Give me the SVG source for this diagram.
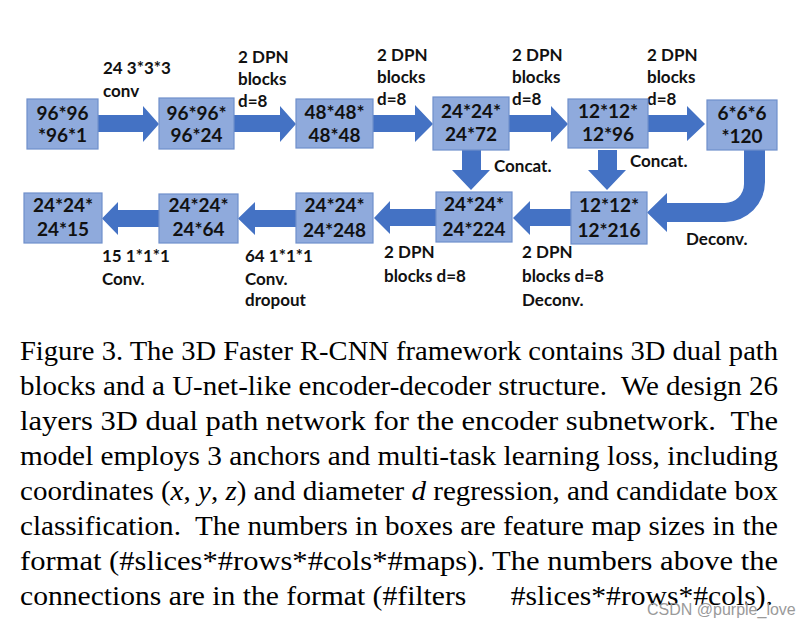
<svg xmlns="http://www.w3.org/2000/svg" width="808" height="627" viewBox="0 0 808 627">
  <style>
    .box { fill: #8FAADC; stroke: #6F8FCB; stroke-width: 1.2; }
    .arrow { fill: #4472C4; }
    .bt { font-family: Lato, "Open Sans", sans-serif; font-weight: bold; font-size: 19px; fill: #111; text-anchor: middle; }
    .lb { font-family: Lato, "Open Sans", sans-serif; font-weight: bold; font-size: 17px; fill: #111; }
    .cap { font-family: "Liberation Serif", "Times New Roman", serif; font-size: 28px; fill: #000; white-space: pre; }
    .wm { font-family: "Liberation Sans", Arial, sans-serif; font-size: 16px; fill: #9a9a9a; }
  </style>
  <rect width="808" height="627" fill="#fff"/>

  <!-- connectors: block arrows -->
  <g id="connectors">
    <!-- encoder, left to right -->
    <polygon class="arrow" points="98,115 143,115 143,106 159,124 143,142 143,132 98,132"/>
    <polygon class="arrow" points="234,115 280,115 280,106 296,124 280,142 280,132 234,132"/>
    <polygon class="arrow" points="373,115 415,115 415,105 433,124 415,142 415,132 373,132"/>
    <polygon class="arrow" points="509,115 551,115 551,106 568,124 551,142 551,132 509,132"/>
    <polygon class="arrow" points="648,115 687,115 687,106 705,124 687,141 687,132 648,132"/>
    <!-- concat, downward -->
    <polygon class="arrow" points="462,150 481,150 481,170 490,170 471,190 452,170 462,170"/>
    <polygon class="arrow" points="598,150 617,150 617,170 626,170 607,190 588,170 598,170"/>
    <!-- deconv, bending from the bottleneck into the decoder -->
    <path class="arrow" d="M744,150 L765,150 L765,182 A40,40 0 0 1 725,222 L667,222 L667,232 L647,212.5 L667,193 L667,203 L725,203 A19,19 0 0 0 744,184 Z"/>
    <!-- decoder, right to left -->
    <polygon class="arrow" points="571,209 530,209 530,201 513,218 530,235 530,226 571,226"/>
    <polygon class="arrow" points="436,209 390,209 390,201 374,218 390,234 390,226 436,226"/>
    <polygon class="arrow" points="296,210 255,210 255,202 238,218.5 255,235 255,227 296,227"/>
    <polygon class="arrow" points="159,210 118,210 118,202 102,218.5 118,235 118,227 159,227"/>
  </g>

  <!-- connector labels -->
  <g id="labels">
    <text class="lb" x="103" y="74">24 3*3*3</text>
    <text class="lb" x="103" y="97">conv</text>
    <text class="lb" x="238" y="63">2 DPN</text>
    <text class="lb" x="238" y="85">blocks</text>
    <text class="lb" x="238" y="107">d=8</text>
    <text class="lb" x="377" y="61">2 DPN</text>
    <text class="lb" x="377" y="83">blocks</text>
    <text class="lb" x="377" y="105">d=8</text>
    <text class="lb" x="512" y="61">2 DPN</text>
    <text class="lb" x="512" y="83">blocks</text>
    <text class="lb" x="512" y="105">d=8</text>
    <text class="lb" x="647" y="61">2 DPN</text>
    <text class="lb" x="647" y="83">blocks</text>
    <text class="lb" x="647" y="105">d=8</text>
    <text class="lb" x="494" y="172">Concat.</text>
    <text class="lb" x="630" y="167">Concat.</text>
    <text class="lb" x="686" y="245">Deconv.</text>
    <text class="lb" x="102" y="262">15 1*1*1</text>
    <text class="lb" x="102" y="285">Conv.</text>
    <text class="lb" x="245" y="262">64 1*1*1</text>
    <text class="lb" x="245" y="285">Conv.</text>
    <text class="lb" x="245" y="306">dropout</text>
    <text class="lb" x="384" y="258">2 DPN</text>
    <text class="lb" x="384" y="282">blocks d=8</text>
    <text class="lb" x="522" y="258">2 DPN</text>
    <text class="lb" x="522" y="282">blocks d=8</text>
    <text class="lb" x="522" y="306">Deconv.</text>
  </g>

  <!-- encoder feature maps -->
  <g id="n_input">
    <rect class="box" x="27" y="99" width="71" height="50"/>
    <text class="bt" x="62.5" y="120">96*96</text>
    <text class="bt" x="62.5" y="142">*96*1</text>
  </g>
  <g id="n_conv1">
    <rect class="box" x="159" y="98" width="75" height="51"/>
    <text class="bt" x="196.5" y="120">96*96*</text>
    <text class="bt" x="196.5" y="142">96*24</text>
  </g>
  <g id="n_enc1">
    <rect class="box" x="296" y="99" width="77" height="49"/>
    <text class="bt" x="334.5" y="119">48*48*</text>
    <text class="bt" x="334.5" y="142">48*48</text>
  </g>
  <g id="n_enc2">
    <rect class="box" x="433" y="97" width="76" height="53"/>
    <text class="bt" x="471" y="118">24*24*</text>
    <text class="bt" x="471" y="141">24*72</text>
  </g>
  <g id="n_enc3">
    <rect class="box" x="568" y="99" width="80" height="49"/>
    <text class="bt" x="608" y="118">12*12*</text>
    <text class="bt" x="608" y="141">12*96</text>
  </g>
  <g id="n_bottleneck">
    <rect class="box" x="707" y="100" width="70" height="50"/>
    <text class="bt" x="742" y="120">6*6*6</text>
    <text class="bt" x="742" y="143">*120</text>
  </g>

  <!-- decoder feature maps -->
  <g id="n_dec1">
    <rect class="box" x="571" y="192" width="76" height="52"/>
    <text class="bt" x="609" y="212">12*12*</text>
    <text class="bt" x="609" y="237">12*216</text>
  </g>
  <g id="n_dec2">
    <rect class="box" x="436" y="192" width="76" height="50"/>
    <text class="bt" x="474" y="211">24*24*</text>
    <text class="bt" x="474" y="236">24*224</text>
  </g>
  <g id="n_dec3">
    <rect class="box" x="296" y="193" width="77" height="50"/>
    <text class="bt" x="334.5" y="212">24*24*</text>
    <text class="bt" x="334.5" y="237">24*248</text>
  </g>
  <g id="n_dec4">
    <rect class="box" x="159" y="194" width="79" height="49"/>
    <text class="bt" x="198.5" y="212">24*24*</text>
    <text class="bt" x="198.5" y="236">24*64</text>
  </g>
  <g id="n_output">
    <rect class="box" x="24" y="193" width="78" height="50"/>
    <text class="bt" x="63" y="212">24*24*</text>
    <text class="bt" x="63" y="236">24*15</text>
  </g>

  <!-- caption, justified lines -->
  <g id="caption">
    <text class="cap" x="20" y="360" textLength="758" lengthAdjust="spacingAndGlyphs">Figure 3. The 3D Faster R-CNN framework contains 3D dual path</text>
    <text class="cap" x="20" y="395" textLength="758" lengthAdjust="spacingAndGlyphs">blocks and a U-net-like encoder-decoder structure.  We design 26</text>
    <text class="cap" x="20" y="430" textLength="758" lengthAdjust="spacingAndGlyphs">layers 3D dual path network for the encoder subnetwork.  The</text>
    <text class="cap" x="20" y="465" textLength="758" lengthAdjust="spacingAndGlyphs">model employs 3 anchors and multi-task learning loss, including</text>
    <text class="cap" x="20" y="500" textLength="758" lengthAdjust="spacingAndGlyphs">coordinates (<tspan font-style="italic">x</tspan>, <tspan font-style="italic">y</tspan>, <tspan font-style="italic">z</tspan>) and diameter <tspan font-style="italic">d</tspan> regression, and candidate box</text>
    <text class="cap" x="20" y="535" textLength="758" lengthAdjust="spacingAndGlyphs">classification.  The numbers in boxes are feature map sizes in the</text>
    <text class="cap" x="20" y="570" textLength="758" lengthAdjust="spacingAndGlyphs">format (#slices*#rows*#cols*#maps). The numbers above the</text>
    <text class="cap" x="20" y="605" textLength="753" lengthAdjust="spacingAndGlyphs">connections are in the format (#filters      #slices*#rows*#cols).</text>
  </g>
  <text class="wm" x="647" y="615">CSDN @purple_love</text>
</svg>
